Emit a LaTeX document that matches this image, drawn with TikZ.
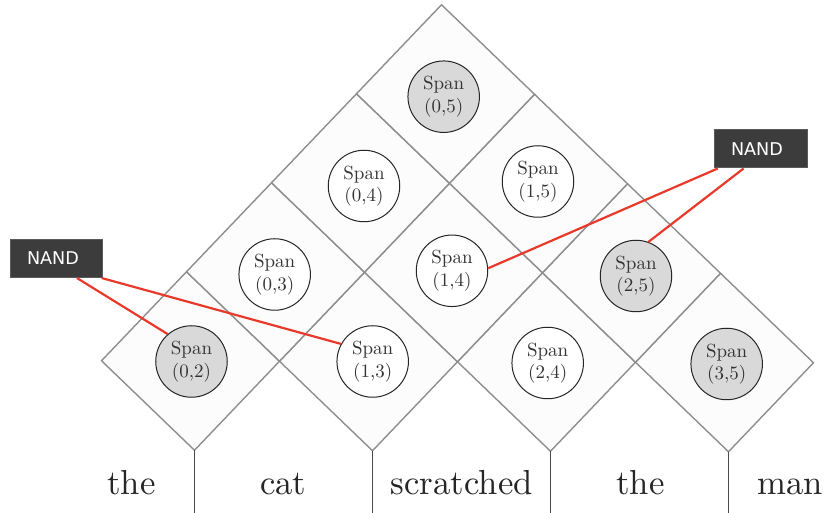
\documentclass[tikz,border=0pt]{standalone}
\usepackage{fontspec}
\newfontfamily\nandfont{DejaVu Sans}
\usetikzlibrary{calc}
\definecolor{cellfill}{HTML}{FCFCFC}
\definecolor{celledge}{HTML}{8E8E8E}
\definecolor{spangray}{HTML}{D9D9D9}
\definecolor{nandfill}{HTML}{3C3C3C}
\definecolor{nandedge}{HTML}{5A5A5A}
\definecolor{linkred}{HTML}{E8392A}
\definecolor{textgray}{HTML}{333333}
\definecolor{sepgray}{HTML}{4A4A4A}
\begin{document}
\begin{tikzpicture}[x=0.5pt,y=-0.5pt,
  cell/.style={fill=cellfill,draw=celledge,line width=0.7pt,line join=miter},
  sepline/.style={draw=sepgray,line width=0.5pt},
  spannode/.style={circle,draw=black!85,line width=0.5pt,fill=white,minimum size=35.75pt,inner sep=0pt,align=center,text=textgray,font=\fontsize{9.5}{11.2}\selectfont},
  spanshaded/.style={spannode,fill=spangray},
  word/.style={anchor=base,inner sep=0pt,text=black!85,font=\fontsize{10}{12}\selectfont,scale=1.736},
  nandbox/.style={fill=nandfill,draw=nandedge,line width=0.5pt,inner sep=0pt,minimum height=19pt,text=white,font=\nandfont\fontsize{8.8}{10}\selectfont},
  link/.style={draw=linkred,line width=1.1pt}]
\useasboundingbox (0,0) rectangle (827,513);
% chart cells
\foreach \i/\j in {0/2,1/3,2/4,3/5,0/3,1/4,2/5,0/4,1/5,0/5} {
  \coordinate (c\i\j) at ({190.5+(\j-2)*85+\i*93},{361-(\j-2)*89+\i*89.5});
  \draw[cell] ($(c\i\j)+(-4,-89.25)$) -- ++(93,89.5) -- ++(-85,89) -- ++(-93,-89.5) -- cycle;
}
% word separators
\foreach \k in {02,13,24,35} {
  \coordinate (b\k) at ($(c\k)+(4,89.25)$);
  \draw[sepline] (b\k) -- ++(0,70);
}
% span nodes
\node[spanshaded] (s05) at (443.7,96.7) {Span\\(0,5)};
\node[spannode] (s04) at (364,186) {Span\\(0,4)};
\node[spannode] (s15) at (538,181.5) {Span\\(1,5)};
\node[spannode] (s03) at (274.7,274.5) {Span\\(0,3)};
\node[spannode] (s14) at (452,270.8) {Span\\(1,4)};
\node[spanshaded] (s25) at (636,276) {Span\\(2,5)};
\node[spanshaded] (s02) at (191.5,361.5) {Span\\(0,2)};
\node[spannode] (s13) at (372.7,361.5) {Span\\(1,3)};
\node[spannode] (s24) at (547.7,363) {Span\\(2,4)};
\node[spanshaded] (s35) at (726.7,364) {Span\\(3,5)};
% words
\node[word] (w1) at (131.5,494.5) {the};
\node[word] (w2) at (283.3,494.5) {cat};
\node[word] (w3) at (461.7,494.5) {scratched};
\node[word] (w4) at (640.5,494.5) {the};
\node[word] (w5) at (790.5,494.5) {man};
% NAND boxes
\node[nandbox,minimum width=46pt] (nL) at (56,258.5) {NAND\kern3pt};
\node[nandbox,minimum width=46.5pt] (nR) at (760.5,149) {NAND\kern3.5pt};
% links
\draw[link] ($(nL.south west)!0.725!(nL.south east)$) -- (s02.131);
\draw[link] ($(nL.south west)!0.99!(nL.south east)$) -- (s13.151);
\draw[link] ($(nR.south west)!0.045!(nR.south east)$) -- (s14.4);
\draw[link] ($(nR.south west)!0.32!(nR.south east)$) -- (s25.70);
\end{tikzpicture}
\end{document}
